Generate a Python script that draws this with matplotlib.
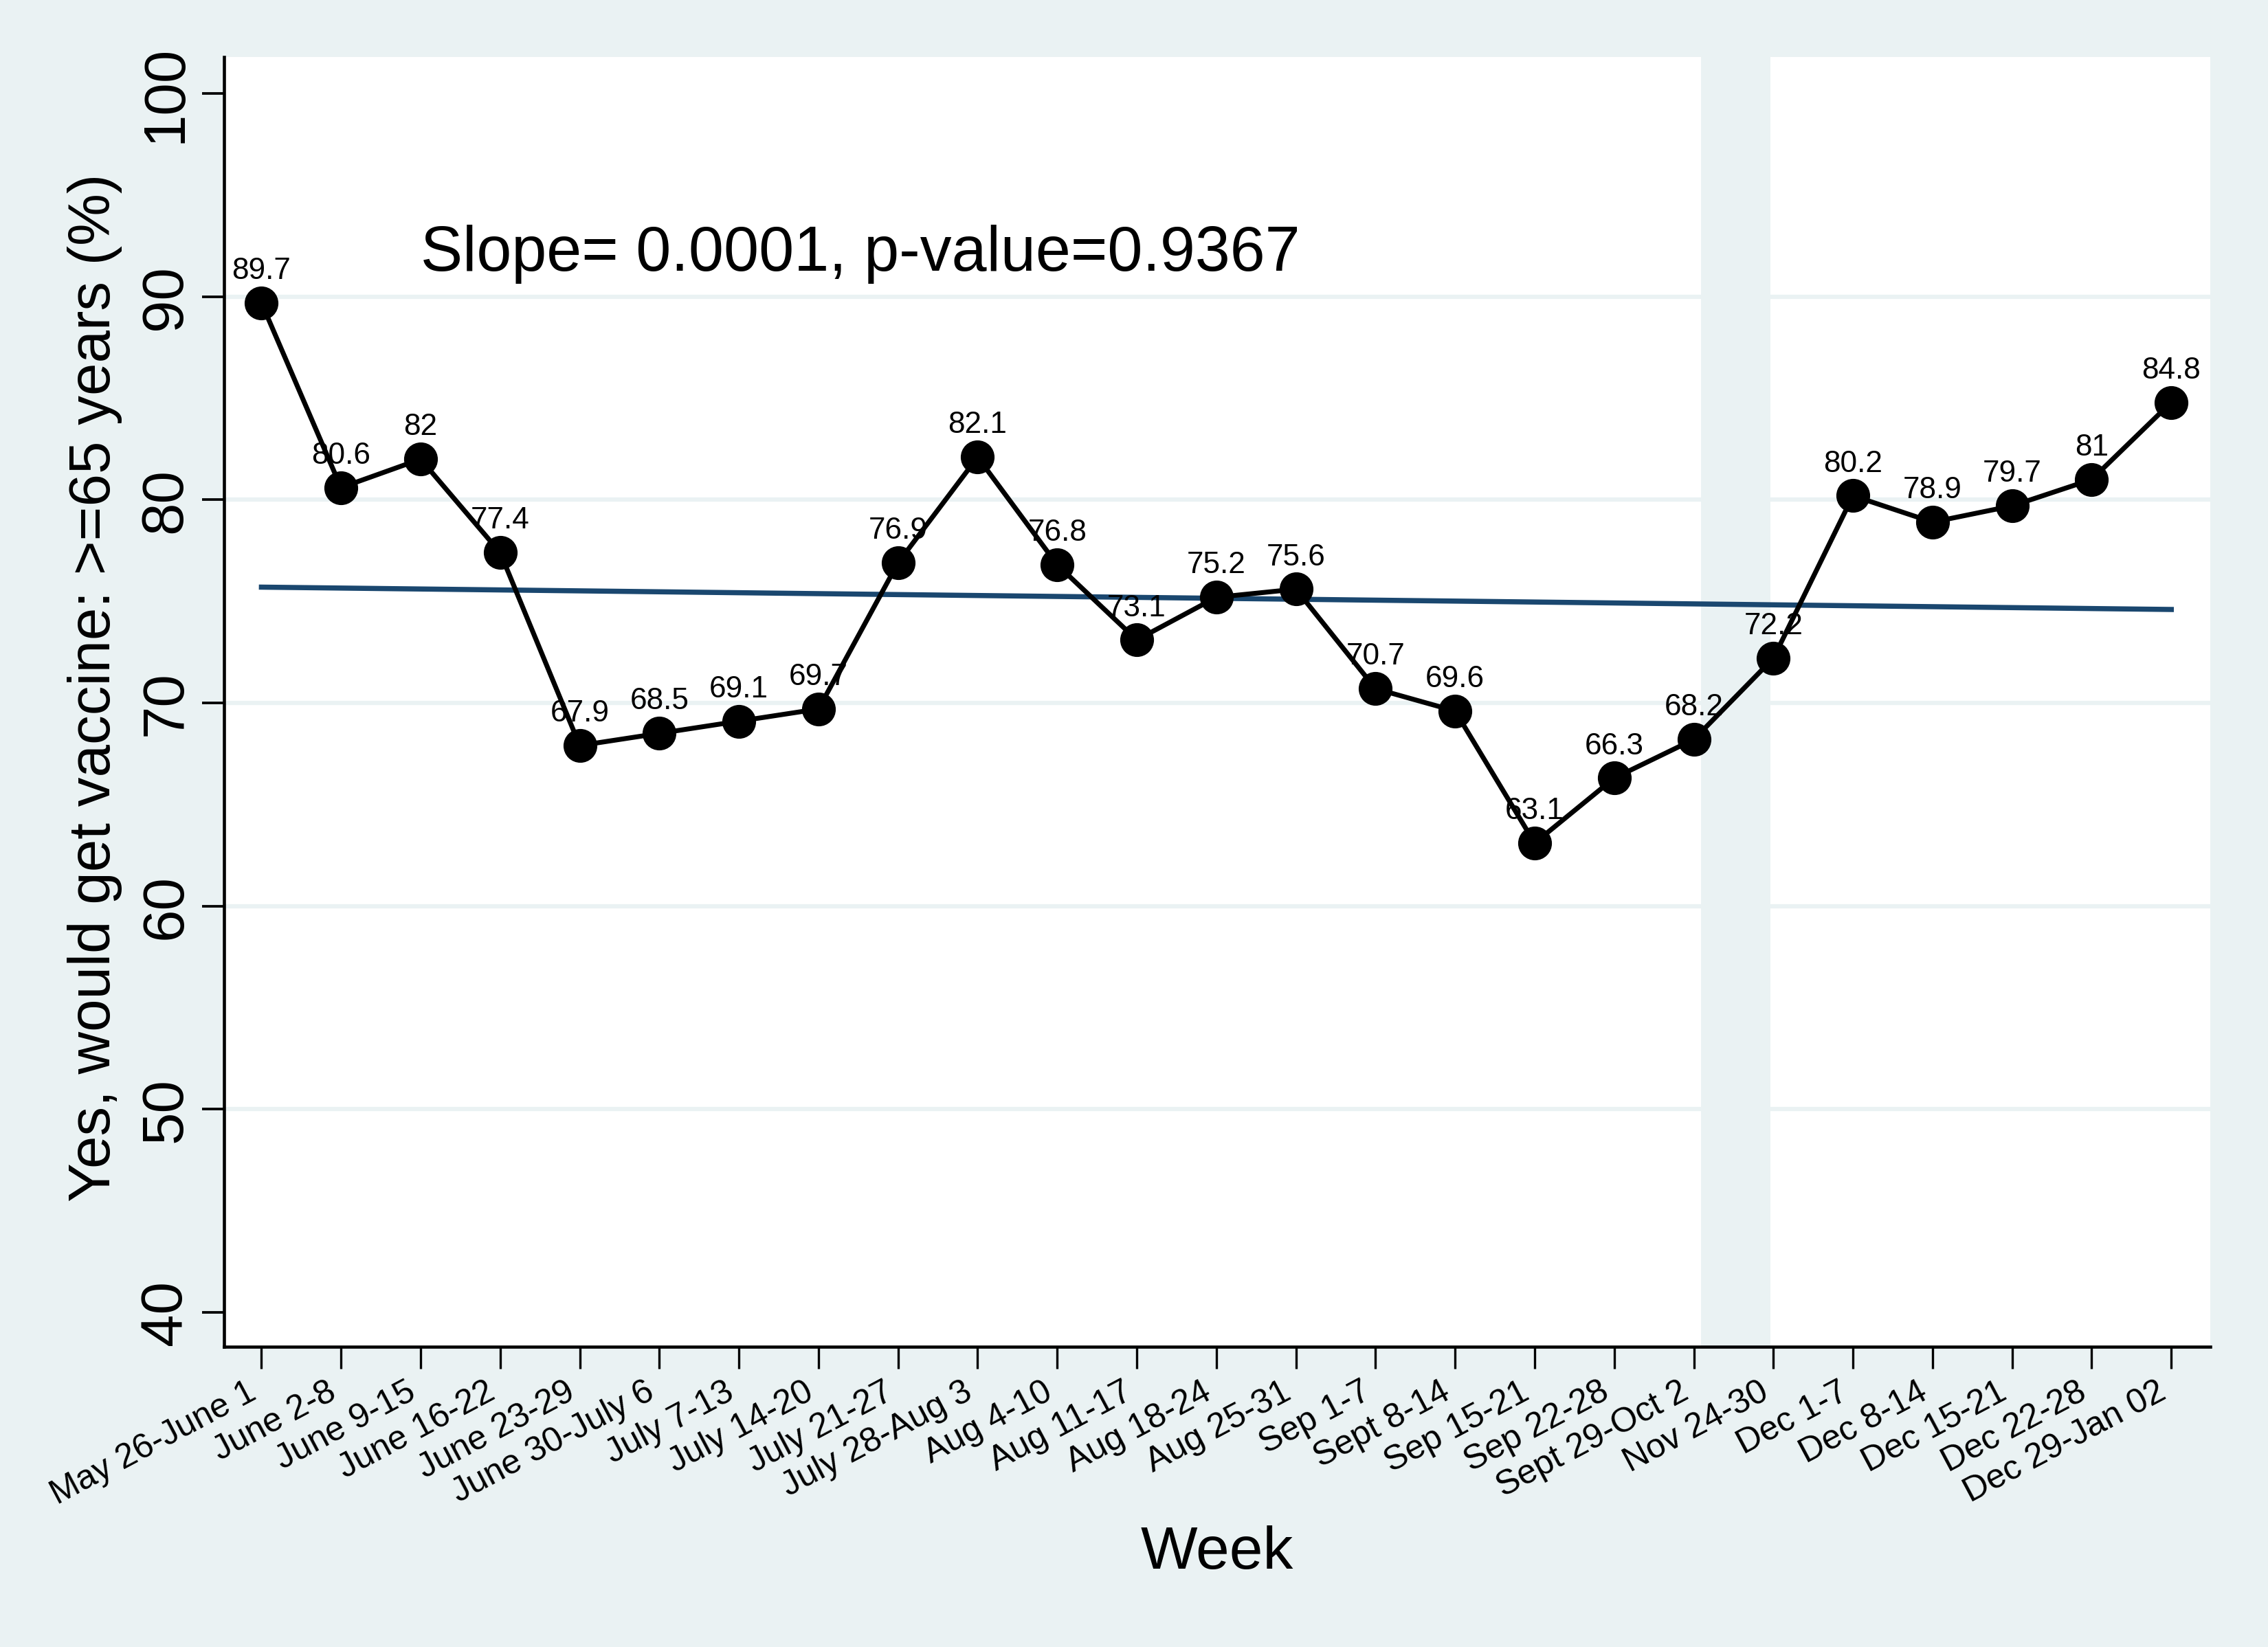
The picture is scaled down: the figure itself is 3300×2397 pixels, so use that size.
import matplotlib
matplotlib.use("Agg")
import matplotlib.pyplot as plt
import numpy as np

plt.rcParams['font.family'] = ['Liberation Sans', 'DejaVu Sans']

weeks = ["May 26-June 1", "June 2-8", "June 9-15", "June 16-22", "June 23-29",
         "June 30-July 6", "July 7-13", "July 14-20", "July 21-27", "July 28-Aug 3",
         "Aug 4-10", "Aug 11-17", "Aug 18-24", "Aug 25-31", "Sep 1-7",
         "Sept 8-14", "Sep 15-21", "Sep 22-28", "Sept 29-Oct 2", "Nov 24-30",
         "Dec 1-7", "Dec 8-14", "Dec 15-21", "Dec 22-28", "Dec 29-Jan 02"]
values = [89.7, 80.6, 82, 77.4, 67.9, 68.5, 69.1, 69.7, 76.9, 82.1,
          76.8, 73.1, 75.2, 75.6, 70.7, 69.6, 63.1, 66.3, 68.2, 72.2,
          80.2, 78.9, 79.7, 81, 84.8]
value_labels = ["89.7", "80.6", "82", "77.4", "67.9", "68.5", "69.1", "69.7", "76.9", "82.1",
                "76.8", "73.1", "75.2", "75.6", "70.7", "69.6", "63.1", "66.3", "68.2", "72.2",
                "80.2", "78.9", "79.7", "81", "84.8"]
fit_start, fit_end = 75.7, 74.6
yticks = [40, 50, 60, 70, 80, 90, 100]
grid_vals = [50, 60, 70, 80, 90]
gap_span = (18.09, 18.96)
annotation = "Slope= 0.0001, p-value=0.9367"

BG = "#EAF2F3"
NAVY = "#1A476F"

fig = plt.figure(figsize=(11, 7.9933), dpi=300, facecolor=BG)
ax = fig.add_axes([326/3300, 1-1961/2398, (3216-326)/3300, (1961-84)/2398])
ax.set_facecolor("white")

x = np.arange(len(weeks))
ax.set_xlim(-0.47, 24.49)
ax.set_ylim(38.3, 101.8)

for g in grid_vals:
    ax.axhline(g, color=BG, lw=1.5, zorder=1)
ax.axvspan(gap_span[0], gap_span[1], color=BG, lw=0, zorder=1.5)

ax.plot([x[0], x[-1]], [fit_start, fit_end], color=NAVY, lw=1.8, zorder=2)
ax.plot(x, values, color="black", lw=1.7, marker="o", markersize=10.8,
        markerfacecolor="black", markeredgecolor="black", zorder=3)

for xi, v, lab in zip(x, values, value_labels):
    ax.annotate(lab, (xi, v), xytext=(0, 8.6), textcoords="offset points",
                ha="center", va="baseline", fontsize=10.6, zorder=4)

ax.text(2.0, 91.3, annotation, fontsize=22, ha="left", va="baseline")

for s in ["top", "right"]:
    ax.spines[s].set_visible(False)
for s in ["left", "bottom"]:
    ax.spines[s].set_linewidth(1.1)
    ax.spines[s].set_color("black")
    ax.spines[s].set_zorder(5)

ax.set_yticks(yticks)
ax.set_yticklabels([str(t) for t in yticks], rotation=90, va="center", fontsize=20.5)
ax.tick_params(axis="y", length=7.7, width=0.9, pad=3, direction="out")

ax.set_xticks(x)
ax.set_xticklabels(weeks, rotation=28, ha="right", va="top", fontsize=12)
ax.tick_params(axis="x", length=7.6, width=0.8, pad=2.4, direction="out")

fig.text(138/3300, 1-1001/2398, "Yes, would get vaccine: >=65 years (%)", rotation=90,
         ha="center", va="center", fontsize=20.5)
fig.text(1771/3300, 1-2283/2398, "Week", ha="center", va="baseline", fontsize=21)

fig.savefig("out.png", dpi=300, facecolor=BG)
